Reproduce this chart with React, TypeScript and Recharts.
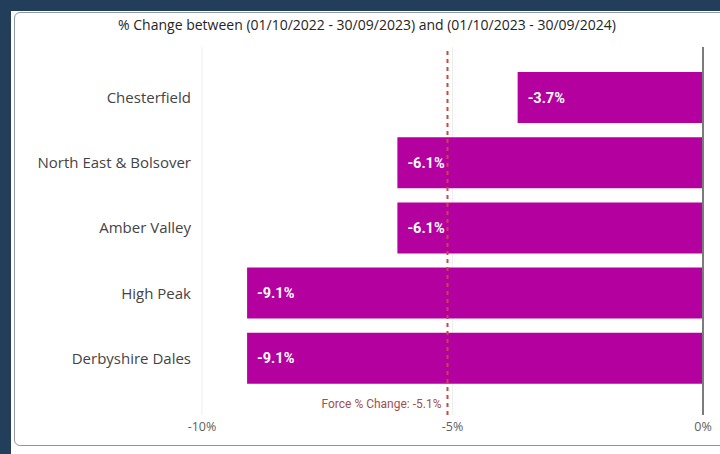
import { BarChart, Bar, XAxis, YAxis, CartesianGrid, ReferenceLine, LabelList } from 'recharts'

const AREAS = ['Chesterfield', 'North East & Bolsover', 'Amber Valley', 'High Peak', 'Derbyshire Dales']
const CHANGE = [-3.7, -6.1, -6.1, -9.1, -9.1]
const X_TICKS = [-10, -5, 0]
const FORCE_CHANGE = -5.1
const TITLE = '% Change between (01/10/2022 - 30/09/2023) and (01/10/2023 - 30/09/2024)'

const data = AREAS.map((area, i) => ({ area, change: CHANGE[i] }))

const BAR = '#b4009e'
const FONT = '"Segoe UI", "Open Sans", sans-serif'

function BarLabel(props: any) {
  const { x, y, width, height, value } = props
  const left = Math.min(x, x + width)
  return (
    <text
      x={left + 10}
      y={y + height / 2}
      dy="0.35em"
      fill="#fff"
      fontSize={14.5}
      fontWeight={700}
      fontFamily="Roboto, sans-serif"
    >
      {value.toFixed(1)}%
    </text>
  )
}

function ForceLabel(props: any) {
  const { viewBox } = props
  const { x, y, height } = viewBox
  return (
    <text
      x={x - 6}
      y={y + height - 11}
      dy="0.35em"
      textAnchor="end"
      fill="#a3504c"
      fontSize={12}
      fontFamily="Roboto, sans-serif"
    >
      Force % Change: {FORCE_CHANGE}%
    </text>
  )
}

export default function App() {
  return (
    <div style={{ position: 'fixed', left: 0, top: 0, width: 720, height: 454, background: '#223e5a', overflow: 'hidden' }}>
      <div style={{ position: 'absolute', left: 11, top: 11, right: 0, bottom: 0, background: '#fff' }} />
      <div
        style={{
          position: 'absolute', left: 14, top: 12, width: 720, height: 432,
          border: '1.5px solid #8d98a2', borderRadius: 6, background: '#fff',
        }}
      />
      <div
        style={{
          position: 'absolute', left: 0, top: 15, width: 734, textAlign: 'center',
          fontFamily: FONT, fontSize: 14, color: '#252423',
        }}
      >
        {TITLE}
      </div>
      <div style={{ position: 'absolute', left: 0, top: 0 }}>
        <BarChart
          width={720}
          height={454}
          data={data}
          layout="vertical"
          margin={{ top: 47, right: 17, bottom: 9, left: 12 }}
          barSize={51}
        >
          <CartesianGrid horizontal={false} stroke="#efefef" />
          <XAxis
            type="number"
            domain={[-10, 0]}
            ticks={X_TICKS}
            tickFormatter={(v) => `${v}%`}
            axisLine={false}
            tickLine={false}
            tickMargin={1}
            height={30}
            tick={{ fontSize: 12.5, fill: '#605e5c', fontFamily: FONT }}
          />
          <YAxis
            type="category"
            dataKey="area"
            width={190}
            axisLine={false}
            tickLine={false}
            tickMargin={5}
            padding={{ top: 18, bottom: 24 }}
            tick={{ fontSize: 15, fill: '#444', fontFamily: FONT }}
          />
          <Bar dataKey="change" fill={BAR} isAnimationActive={false}>
            <LabelList dataKey="change" content={BarLabel} />
          </Bar>
          <ReferenceLine x={0} stroke="#7b7b7b" strokeWidth={2} />
          <ReferenceLine
            x={FORCE_CHANGE}
            stroke="#c9474b"
            strokeWidth={2}
            strokeDasharray="4 4"
            label={<ForceLabel />}
          />
        </BarChart>
      </div>
    </div>
  )
}
